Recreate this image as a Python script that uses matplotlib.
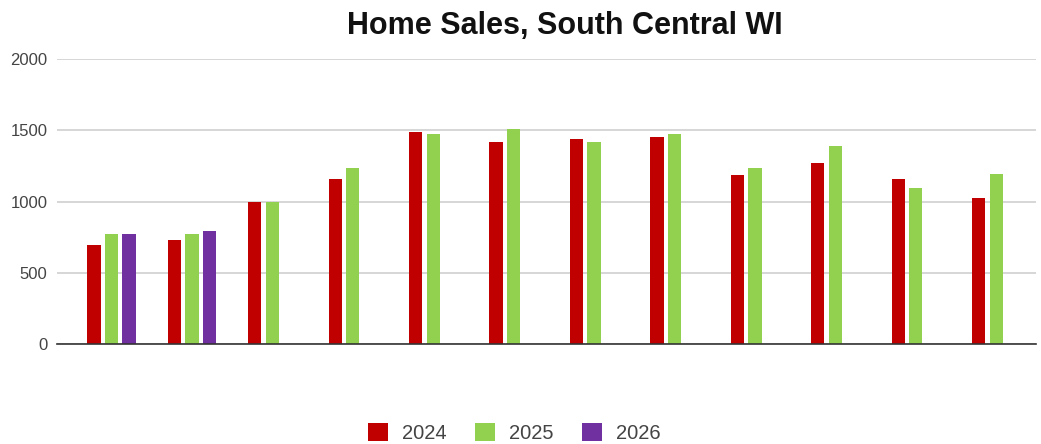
import numpy as np
import matplotlib.pyplot as plt
from matplotlib.patches import Patch

plt.rcParams['font.family'] = ['Liberation Sans', 'DejaVu Sans']

months = np.arange(12)
sales_2024 = [695, 733, 1000, 1161, 1489, 1416, 1442, 1454, 1184, 1271, 1161, 1025]
sales_2025 = [770, 770, 1000, 1234, 1477, 1512, 1416, 1477, 1234, 1393, 1098, 1196]
sales_2026 = [770, 794, np.nan, np.nan, np.nan, np.nan, np.nan, np.nan, np.nan, np.nan, np.nan, np.nan]

colors = ['#c00000', '#92d050', '#7030a0']
labels = ['2024', '2025', '2026']

fig = plt.figure(figsize=(10.41, 4.44), dpi=100)
ax = fig.add_axes([0.0548, 0.225, 0.94, 0.642])

w = 0.165
step = 0.218
for k, vals in enumerate([sales_2024, sales_2025, sales_2026]):
    ax.bar(months + (k - 1) * step, vals, width=w, color=colors[k], zorder=3)

ax.set_ylim(0, 2000)
ax.set_xlim(-0.677, 11.49)
ax.set_yticks([0, 500, 1000, 1500, 2000])
ax.set_xticks([])
ax.grid(axis='y', color='#d0d0d0', linewidth=1.2, zorder=0)
for s in ['top', 'right', 'left']:
    ax.spines[s].set_visible(False)
ax.spines['bottom'].set_color('#333333')
ax.spines['bottom'].set_linewidth(1.2)
ax.spines['bottom'].set_zorder(4)
ax.tick_params(axis='y', length=0, labelsize=12, labelcolor='#444444', pad=7)

fig.text(565 / 1041, 1 - 26 / 444, 'Home Sales, South Central WI', ha='center', va='center',
         fontsize=22, fontweight='bold', color='#111111')

handles = [Patch(facecolor=c, edgecolor='none') for c in colors]
fig.legend(handles, labels, loc='center', bbox_to_anchor=(514 / 1041, 1 - 433 / 444), ncol=3,
           frameon=False, fontsize=14.5, handlelength=1.0, handleheight=1.0, columnspacing=1.4,
           handletextpad=0.7, labelcolor='#444444')

fig.savefig('out.png', dpi=100)
